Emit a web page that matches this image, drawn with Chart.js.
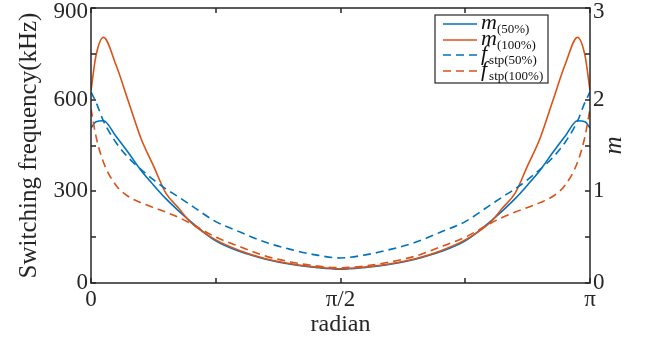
<!DOCTYPE html>
<html>
<head>
<meta charset="utf-8">
<script src="https://cdn.jsdelivr.net/npm/chart.js@4/dist/chart.umd.min.js"></script>
<style>
  html, body { margin: 0; background: #fff; }
</style>
</head>
<body>
<canvas id="myChart" width="646" height="340"></canvas>
<script>
// position along x, as a fraction of pi
var radianFrac = [0, 0.01, 0.025, 0.05, 0.075, 0.1, 0.125, 0.15, 0.175, 0.2, 0.25, 0.3, 0.35, 0.4, 0.45, 0.5,
                  0.55, 0.6, 0.65, 0.7, 0.75, 0.8, 0.825, 0.85, 0.875, 0.9, 0.925, 0.95, 0.975, 0.99, 1];

// modulation index m (right axis)
var m50  = [1.69, 1.76, 1.77, 1.60, 1.42, 1.23, 1.07, 0.92, 0.79, 0.67, 0.46, 0.34, 0.26, 0.205, 0.17, 0.15,
            0.17, 0.205, 0.26, 0.34, 0.46, 0.67, 0.79, 0.92, 1.07, 1.23, 1.42, 1.60, 1.77, 1.76, 1.69];
var m100 = [2.10, 2.48, 2.68, 2.38, 1.98, 1.58, 1.28, 0.98, 0.82, 0.66, 0.47, 0.35, 0.265, 0.21, 0.175, 0.155,
            0.175, 0.21, 0.265, 0.35, 0.47, 0.66, 0.82, 0.98, 1.28, 1.58, 1.98, 2.38, 2.68, 2.48, 2.10];

// switching frequency in kHz (left axis)
var fstp50  = [625, 592, 530, 460, 410, 372, 338, 308, 282, 255, 201, 166, 133, 110, 92, 82,
               92, 110, 133, 166, 201, 255, 282, 308, 338, 372, 410, 460, 530, 592, 625];
var fstp100 = [570, 480, 395, 320, 283, 263, 247, 232, 215, 195, 150, 118, 88, 69, 56, 50,
               56, 69, 88, 118, 150, 195, 215, 232, 247, 263, 283, 320, 395, 480, 570];

var xTickFrac = [0, 0.5, 1];
var xTickText = ['0', 'π/2', 'π'];
var leftTicks = [0, 300, 600, 900];
var rightTicks = [0, 1, 2, 3];

var blue = '#0072BD';
var orange = '#D95319';
var serif = '"Liberation Serif", "Times New Roman", serif';

function pts(vals) {
  var out = [];
  for (var i = 0; i < vals.length; i++) {
    out.push({ x: radianFrac[i] * Math.PI, y: vals[i] });
  }
  return out;
}

var framePlugin = {
  id: 'frame',
  afterDatasetsDraw: function(chart) {
    var ctx = chart.ctx;
    var a = chart.chartArea;
    var sx = chart.scales.x, sy = chart.scales.y, sy1 = chart.scales.y1;
    ctx.save();
    ctx.strokeStyle = '#262626';
    ctx.lineWidth = 1.5;
    ctx.setLineDash([]);
    ctx.strokeRect(a.left, a.top, a.right - a.left, a.bottom - a.top);

    var t = 5, i, p;
    ctx.beginPath();
    for (i = 0; i <= 4; i++) {
      p = Math.round(sx.getPixelForValue(i * Math.PI / 4));
      ctx.moveTo(p, a.bottom); ctx.lineTo(p, a.bottom - t);
      ctx.moveTo(p, a.top); ctx.lineTo(p, a.top + t);
    }
    for (i = 0; i <= 6; i++) {
      p = Math.round(sy.getPixelForValue(i * 150));
      ctx.moveTo(a.left, p); ctx.lineTo(a.left + t, p);
      p = Math.round(sy1.getPixelForValue(i * 0.5));
      ctx.moveTo(a.right, p); ctx.lineTo(a.right - t, p);
    }
    ctx.stroke();

    // right axis title
    ctx.fillStyle = '#262626';
    ctx.font = 'italic 25px ' + serif;
    ctx.textAlign = 'center';
    ctx.textBaseline = 'middle';
    ctx.translate(614, (a.top + a.bottom) / 2);
    ctx.rotate(-Math.PI / 2);
    ctx.fillText('m', 0, 0);
    ctx.restore();

    // legend
    ctx.save();
    ctx.fillStyle = '#fff';
    ctx.fillRect(435, 15, 113, 68);
    ctx.strokeStyle = '#262626';
    ctx.lineWidth = 1.2;
    ctx.strokeRect(435, 15, 113, 68);
    var rows = [
      [24, blue, [], 'm', '(50%)'],
      [40, orange, [], 'm', '(100%)'],
      [55, blue, [8, 5], 'f', 'stp(50%)'],
      [71, orange, [8, 5], 'f', 'stp(100%)']
    ];
    rows.forEach(function(r) {
      ctx.strokeStyle = r[1];
      ctx.lineWidth = 1.6;
      ctx.setLineDash(r[2]);
      ctx.beginPath();
      ctx.moveTo(443, r[0]); ctx.lineTo(477, r[0]);
      ctx.stroke();
      ctx.setLineDash([]);
      ctx.fillStyle = '#111';
      ctx.textAlign = 'left';
      ctx.textBaseline = 'alphabetic';
      ctx.font = 'italic 22px ' + serif;
      ctx.fillText(r[3], 481, r[0] + 5);
      var w = ctx.measureText(r[3]).width;
      ctx.font = '13px ' + serif;
      ctx.fillText(r[4], 481 + w + (r[3] === 'f' ? 2 : 0), r[0] + 9);
    });
    ctx.restore();
  }
};

function noVertPad(s) {
  s.paddingTop = 0;
  s.paddingBottom = 0;
}

// the top label sits a little below its tick so that it stays inside the canvas
function yLabel(v, i, all) {
  return i === all.length - 1 ? ['', String(v)] : String(v);
}
function yFont(c) {
  var top = c.tick && (c.tick.value === 900 || (c.scale && c.scale.id === 'y1' && c.tick.value === 3));
  return { family: serif, size: 23, lineHeight: top ? 0.35 : 1.2 };
}

var ctx = document.getElementById('myChart').getContext('2d');
var chart = new Chart(ctx, {
  type: 'line',
  data: {
    datasets: [
      { label: 'm(50%)', data: pts(m50), yAxisID: 'y1', borderColor: blue, borderWidth: 1.6, order: 4 },
      { label: 'm(100%)', data: pts(m100), yAxisID: 'y1', borderColor: orange, borderWidth: 1.6, order: 3 },
      { label: 'fstp(50%)', data: pts(fstp50), yAxisID: 'y', borderColor: blue, borderWidth: 1.6, borderDash: [8, 5], order: 2 },
      { label: 'fstp(100%)', data: pts(fstp100), yAxisID: 'y', borderColor: orange, borderWidth: 1.6, borderDash: [8, 5], order: 1 }
    ]
  },
  options: {
    responsive: false,
    animation: false,
    layout: { padding: { top: 8 } },
    elements: {
      point: { radius: 0 },
      line: { cubicInterpolationMode: 'monotone', fill: false }
    },
    plugins: { legend: { display: false }, tooltip: { enabled: false } },
    scales: {
      x: {
        type: 'linear', min: 0, max: Math.PI,
        grid: { display: false, drawTicks: false }, border: { display: false },
        afterBuildTicks: function(s) { s.ticks = xTickFrac.map(function(f) { return { value: f * Math.PI }; }); },
        afterFit: function(s) { s.height = 57; },
        ticks: {
          padding: 3, maxRotation: 0, color: '#262626',
          font: { family: serif, size: 23 },
          callback: function(v, i) { return xTickText[i]; }
        },
        title: { display: true, text: 'radian', color: '#262626', font: { family: serif, size: 24 }, padding: { top: 0, bottom: 1 } }
      },
      y: {
        position: 'left', min: 0, max: 900,
        grid: { display: false, drawTicks: false }, border: { display: false },
        afterBuildTicks: function(s) { s.ticks = leftTicks.map(function(v) { return { value: v }; }); },
        afterFit: function(s) { s.width = 91; noVertPad(s); },
        ticks: { padding: 3, color: '#262626', font: yFont, callback: yLabel },
        title: { display: true, text: 'Switching frequency(kHz)', color: '#262626', font: { family: serif, size: 25 }, padding: { top: 14, bottom: 0 } }
      },
      y1: {
        position: 'right', min: 0, max: 3,
        grid: { display: false, drawTicks: false }, border: { display: false },
        afterBuildTicks: function(s) { s.ticks = rightTicks.map(function(v) { return { value: v }; }); },
        afterFit: function(s) { s.width = 56; noVertPad(s); },
        ticks: { padding: 3, color: '#262626', font: yFont, callback: yLabel }
      }
    }
  },
  plugins: [framePlugin]
});
</script>
</body>
</html>
